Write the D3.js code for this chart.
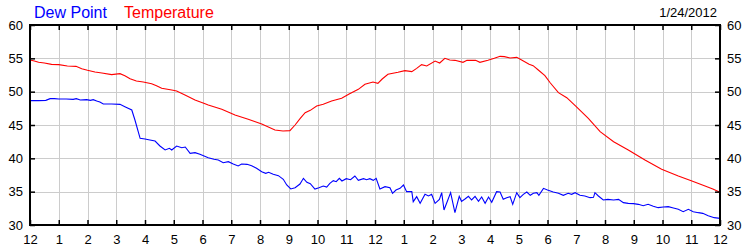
<!DOCTYPE html>
<html>
<head>
<meta charset="utf-8">
<script src="https://cdn.jsdelivr.net/npm/d3@7"></script>
<style>
  html, body { margin: 0; padding: 0; background: #fff; }
  svg { display: block; }
  text { font-family: "Liberation Sans", Arial, sans-serif; }
</style>
</head>
<body>
<svg id="chart" width="750" height="250"></svg>
<script>
const hourLabels = ["12","1","2","3","4","5","6","7","8","9","10","11","12","1","2","3","4","5","6","7","8","9","10","11","12"];
const yTicks = [30, 35, 40, 45, 50, 55, 60];
const seriesNames = ["Dew Point", "Temperature"];
const dateLabel = "1/24/2012";

const tempHours = [0.0,0.15,0.3,0.5,0.75,1.0,1.3,1.6,1.8,2.0,2.26,2.5,2.84,3.13,3.3,3.48,3.7,3.94,4.23,4.4,4.58,4.93,5.1,5.39,5.74,6.09,6.2,6.67,7.13,7.59,8.06,8.52,8.8,9.04,9.22,9.4,9.57,9.75,9.97,10.2,10.49,10.84,11.1,11.42,11.65,11.93,12.1,12.25,12.45,12.8,13.04,13.28,13.45,13.62,13.8,14.09,14.25,14.43,14.6,14.78,15.06,15.2,15.36,15.5,15.65,15.93,16.15,16.35,16.5,16.7,16.93,17.1,17.36,17.5,17.68,17.91,18.1,18.38,18.67,19.0,19.42,19.83,20.3,20.81,21.39,21.97,22.55,23.0,23.48,23.75,24.0];
const tempValues = [54.75,54.6,54.4,54.3,54.1,54.05,53.85,53.8,53.45,53.2,52.95,52.8,52.55,52.7,52.4,51.95,51.6,51.45,51.2,50.9,50.5,50.25,50.1,49.5,48.75,48.2,48.0,47.35,46.5,45.85,45.15,44.25,44.1,44.15,45.0,46.0,46.85,47.2,47.85,48.1,48.6,49.0,49.65,50.35,51.1,51.45,51.25,51.9,52.6,52.9,53.15,53.0,53.5,54.05,53.85,54.6,54.3,55.0,54.75,54.7,54.4,54.7,54.7,54.7,54.4,54.7,55.0,55.3,55.25,55.05,55.15,54.75,54.1,53.9,53.25,52.4,51.3,49.85,49.1,47.75,46.0,44.0,42.5,41.25,39.75,38.35,37.35,36.65,35.85,35.4,34.9];

const dewHours = [0.0,0.3,0.55,0.7,0.85,1.0,1.26,1.5,1.61,1.75,1.97,2.1,2.2,2.32,2.43,2.55,2.84,3.13,3.3,3.54,3.65,3.83,4.0,4.17,4.35,4.52,4.7,4.85,4.93,5.1,5.28,5.4,5.57,5.74,5.91,6.2,6.4,6.55,6.72,6.9,7.07,7.24,7.36,7.55,7.71,7.88,8.06,8.2,8.3,8.46,8.64,8.81,8.93,9.07,9.22,9.39,9.51,9.63,9.75,9.91,10.05,10.2,10.32,10.43,10.55,10.65,10.76,10.85,11.0,11.15,11.3,11.42,11.6,11.71,11.82,11.94,12.04,12.17,12.35,12.52,12.61,12.73,12.87,12.99,13.1,13.28,13.33,13.45,13.57,13.74,13.86,13.97,14.09,14.24,14.32,14.4,14.52,14.63,14.78,14.93,15.01,15.13,15.25,15.36,15.48,15.6,15.71,15.83,15.95,16.06,16.23,16.35,16.46,16.58,16.7,16.79,16.93,17.04,17.16,17.28,17.4,17.51,17.63,17.7,17.86,18.0,18.2,18.38,18.55,18.72,18.84,18.96,19.13,19.3,19.48,19.6,19.65,19.77,19.94,20.1,20.3,20.47,20.64,20.81,20.99,21.16,21.33,21.5,21.68,21.85,22.03,22.2,22.38,22.55,22.72,22.9,23.07,23.25,23.4,23.59,23.8,24.0];
const dewValues = [48.65,48.65,48.7,48.95,48.95,48.9,48.9,48.85,48.95,48.75,48.8,48.7,48.8,48.6,48.45,48.15,48.15,48.1,47.75,47.25,45.75,43.0,42.9,42.75,42.6,41.85,41.25,41.5,41.25,41.85,41.6,41.7,40.75,40.85,40.6,40.1,39.85,39.75,39.35,39.5,39.15,38.85,39.15,39.1,38.9,38.5,38.0,37.75,37.9,37.6,37.4,36.85,36.0,35.4,35.6,36.15,37.0,36.4,36.2,35.4,35.6,35.85,35.7,36.25,36.65,36.5,37.0,36.6,36.95,36.8,37.35,36.7,36.95,36.8,36.95,36.7,37.0,35.4,35.75,35.6,34.75,35.25,35.5,36.0,35.0,35.0,33.5,34.25,33.25,34.6,34.35,34.6,33.25,33.85,34.85,32.25,33.6,34.85,31.85,34.3,33.55,33.9,34.3,33.75,34.3,33.55,34.2,33.25,34.2,33.4,35.0,34.95,33.85,34.1,34.25,33.1,34.85,34.1,34.6,34.95,34.45,34.75,34.85,34.45,35.5,35.25,34.95,34.75,34.45,34.75,34.6,34.85,34.45,34.35,34.1,34.15,34.85,34.35,33.75,33.85,33.75,33.85,33.35,33.25,33.2,33.1,32.9,33.1,32.8,32.6,32.7,32.75,32.55,32.35,32.0,32.35,32.0,31.85,31.75,31.4,31.1,31.0];

const svg = d3.select("#chart");
const W = 750, H = 250;
const m = { left: 30, right: 30, top: 25, bottom: 25 };

svg.append("rect").attr("width", W).attr("height", H).attr("fill", "#fff");

const x = d3.scaleLinear().domain([0, 24]).range([m.left, W - m.right]);
const y = d3.scaleLinear().domain([30, 60]).range([H - m.bottom, m.top]);
const hourTicks = d3.range(0, 25);

// grid
const grid = svg.append("g").attr("stroke", "#cccccc").attr("stroke-width", 1).attr("shape-rendering", "crispEdges");
grid.selectAll("line.v").data(hourTicks.slice(1, -1)).join("line")
  .attr("x1", d => Math.round(x(d)) + 0.5).attr("x2", d => Math.round(x(d)) + 0.5)
  .attr("y1", y(60)).attr("y2", y(30));
grid.selectAll("line.h").data(yTicks.slice(1, -1)).join("line")
  .attr("y1", d => Math.round(y(d)) + 0.5).attr("y2", d => Math.round(y(d)) + 0.5)
  .attr("x1", x(0)).attr("x2", x(24));

// lines
const lineGen = (hs, vs) => d3.line().x((d, i) => x(hs[i])).y(d => y(d))(vs);
svg.append("path").attr("d", lineGen(tempHours, tempValues))
  .attr("fill", "none").attr("stroke", "#ff0000").attr("stroke-width", 1.1);
svg.append("path").attr("d", lineGen(dewHours, dewValues))
  .attr("fill", "none").attr("stroke", "#0000ff").attr("stroke-width", 1.1);

// axes
function styleAxis(g) {
  g.select(".domain").remove();
  g.selectAll(".tick line").attr("stroke", "#000").attr("stroke-width", 1.5);
  g.selectAll(".tick text").attr("fill", "#000").attr("font-size", 13)
    .attr("font-family", '"Liberation Sans", Arial, sans-serif');
}
const fmtHour = (d) => hourLabels[d];

svg.append("g").attr("transform", `translate(0,${y(30)})`)
  .call(d3.axisBottom(x).tickValues(hourTicks).tickFormat(fmtHour).tickSizeInner(-5).tickSizeOuter(0).tickPadding(10))
  .call(styleAxis);
svg.append("g").attr("transform", `translate(0,${y(60)})`)
  .call(d3.axisTop(x).tickValues(hourTicks).tickFormat("").tickSizeInner(-5).tickSizeOuter(0))
  .call(styleAxis);
svg.append("g").attr("transform", `translate(${x(0)},0)`)
  .call(d3.axisLeft(y).tickValues(yTicks).tickSizeInner(-5).tickSizeOuter(0).tickPadding(7))
  .call(styleAxis);
svg.append("g").attr("transform", `translate(${x(24)},0)`)
  .call(d3.axisRight(y).tickValues(yTicks).tickSizeInner(-5).tickSizeOuter(0).tickPadding(7))
  .call(styleAxis);

// frame
svg.append("rect").attr("x", x(0)).attr("y", y(60))
  .attr("width", x(24) - x(0)).attr("height", y(30) - y(60))
  .attr("fill", "none").attr("stroke", "#000").attr("stroke-width", 2);

// legend
svg.append("text").attr("x", 34).attr("y", 18).attr("font-size", 16).attr("fill", "#0000ff").text(seriesNames[0]);
svg.append("text").attr("x", 124).attr("y", 18).attr("font-size", 16).attr("fill", "#ff0000").text(seriesNames[1]);
svg.append("text").attr("x", 717).attr("y", 17).attr("font-size", 13).attr("text-anchor", "end").attr("fill", "#000").text(dateLabel);
</script>
</body>
</html>
